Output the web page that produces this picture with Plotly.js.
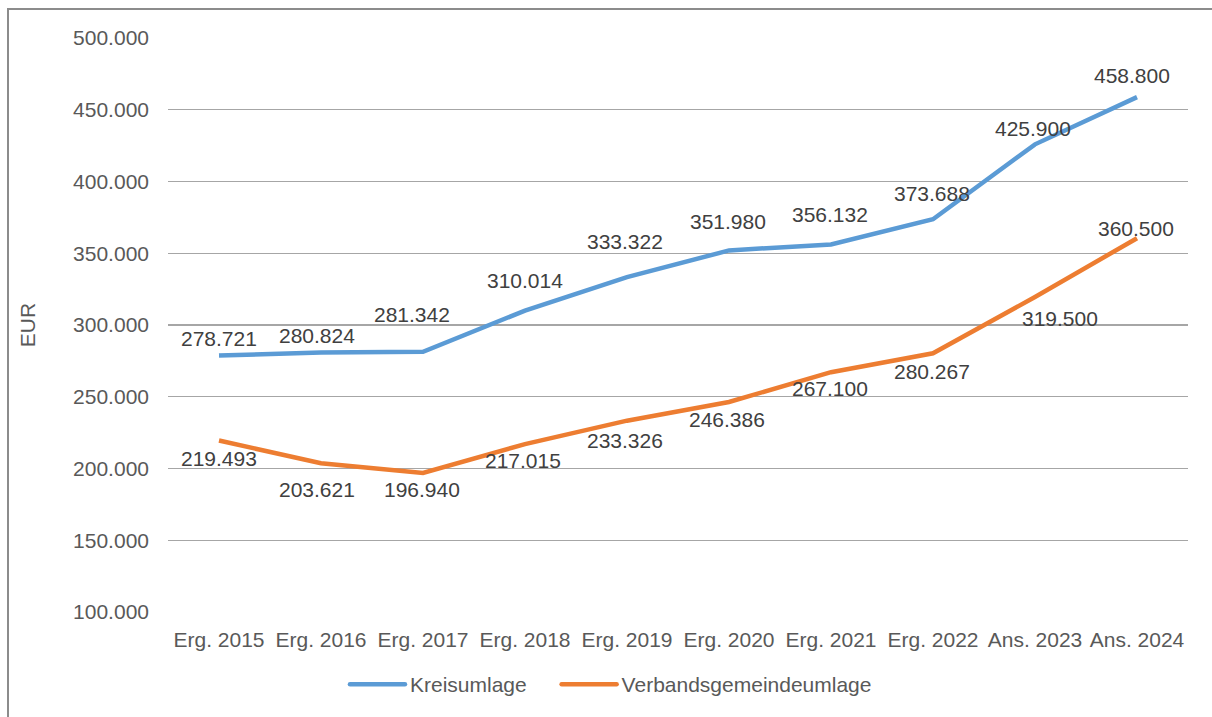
<!DOCTYPE html>
<html>
<head>
<meta charset="utf-8">
<script src="https://cdn.plot.ly/plotly-3.0.1.min.js"></script>
<style>
html,body{margin:0;padding:0;background:#fff;overflow:hidden;}
#chart{width:1212px;height:717px;position:absolute;left:0;top:0;}
#frame{position:absolute;left:7px;top:8px;width:1230px;height:740px;border:2px solid #8c8c8c;box-sizing:border-box;pointer-events:none;}
</style>
</head>
<body>
<div id="chart"></div>
<div id="frame"></div>
<script>
const categories = ["Erg. 2015","Erg. 2016","Erg. 2017","Erg. 2018","Erg. 2019","Erg. 2020","Erg. 2021","Erg. 2022","Ans. 2023","Ans. 2024"];
const kreisumlage = [278721, 280824, 281342, 310014, 333322, 351980, 356132, 373688, 425900, 458800];
const verbandsgemeindeumlage = [219493, 203621, 196940, 217015, 233326, 246386, 267100, 280267, 319500, 360500];
const yTicks = [100000,150000,200000,250000,300000,350000,400000,450000,500000];

// data-label offsets in pixels (as placed in the original chart)
const kuLabelDx = [0, -4, -11, 0, -2, -1, -1, -1, -2, -5];
const kuLabelDy = [17, 17, 37, 30, 36, 29, 30, 26, 16, 22];
const vgLabelDx = [0, -4, -1, -2, -2, -2, -1, -1, 25, -1];
const vgLabelDy = [-18, -26, -17, -16, -20, -18, -16, -18, -21, 10];

const font = "Liberation Sans, Arial, sans-serif";
const fmt = v => String(v).replace(/\B(?=(\d{3})+(?!\d))/g, ".");

const traces = [
  {
    x: categories, y: kreisumlage, name: "Kreisumlage", type: "scatter", mode: "lines",
    line: {color: "#5b9bd5", width: 4.5}, legend: "legend"
  },
  {
    x: categories, y: verbandsgemeindeumlage, name: "Verbandsgemeindeumlage", type: "scatter", mode: "lines",
    line: {color: "#ed7d31", width: 4.5}, legend: "legend2"
  }
];

const annotations = [];
function addLabels(vals, dx, dy) {
  vals.forEach((v, i) => {
    annotations.push({
      x: categories[i], y: v, xref: "x", yref: "y", text: fmt(v), showarrow: false,
      xanchor: "center", yanchor: "middle", xshift: dx[i], yshift: dy[i],
      font: {family: font, size: 21, color: "#404040"}
    });
  });
}
addLabels(kreisumlage, kuLabelDx, kuLabelDy);
addLabels(verbandsgemeindeumlage, vgLabelDx, vgLabelDy);
annotations.push({
  text: "EUR", xref: "paper", yref: "paper", x: -0.138, y: 0.5,
  xanchor: "center", yanchor: "middle", textangle: -90, showarrow: false,
  font: {family: font, size: 21, color: "#595959"}
});

const legendBase = {orientation: "h", yanchor: "middle", y: -0.1265, xanchor: "left",
                    font: {family: font, size: 21, color: "#595959"}, itemwidth: 55, bgcolor: "rgba(0,0,0,0)"};

const layout = {
  width: 1212, height: 717,
  margin: {l: 168, r: 24, t: 38, b: 102},
  paper_bgcolor: "#fff", plot_bgcolor: "#fff",
  separators: ",.",
  font: {family: font, size: 21, color: "#595959"},
  showlegend: true,
  legend: Object.assign({}, legendBase, {x: 0.1735}),
  legend2: Object.assign({}, legendBase, {x: 0.381}),
  xaxis: {
    type: "category", range: [-0.5, 9.5], showgrid: false, zeroline: false,
    showline: false, ticks: "", ticklabelstandoff: 13,
    tickfont: {family: font, size: 21, color: "#595959"},
    fixedrange: true
  },
  yaxis: {
    range: [100000, 500000], tickvals: yTicks, tickformat: ",d",
    showgrid: true, gridcolor: "#a6a6a6", gridwidth: 1.3,
    zeroline: false, showline: false, ticks: "",
    ticklabelstandoff: 18,
    tickfont: {family: font, size: 21, color: "#595959"},
    fixedrange: true
  },
  annotations: annotations
};

Plotly.newPlot("chart", traces, layout, {displayModeBar: false, staticPlot: true}).then(gd => {
  gd.querySelectorAll(".legendlines path").forEach(p => {
    p.setAttribute("d", "M5,0h55");
    p.style.strokeLinecap = "round";
  });
});
</script>
</body>
</html>
